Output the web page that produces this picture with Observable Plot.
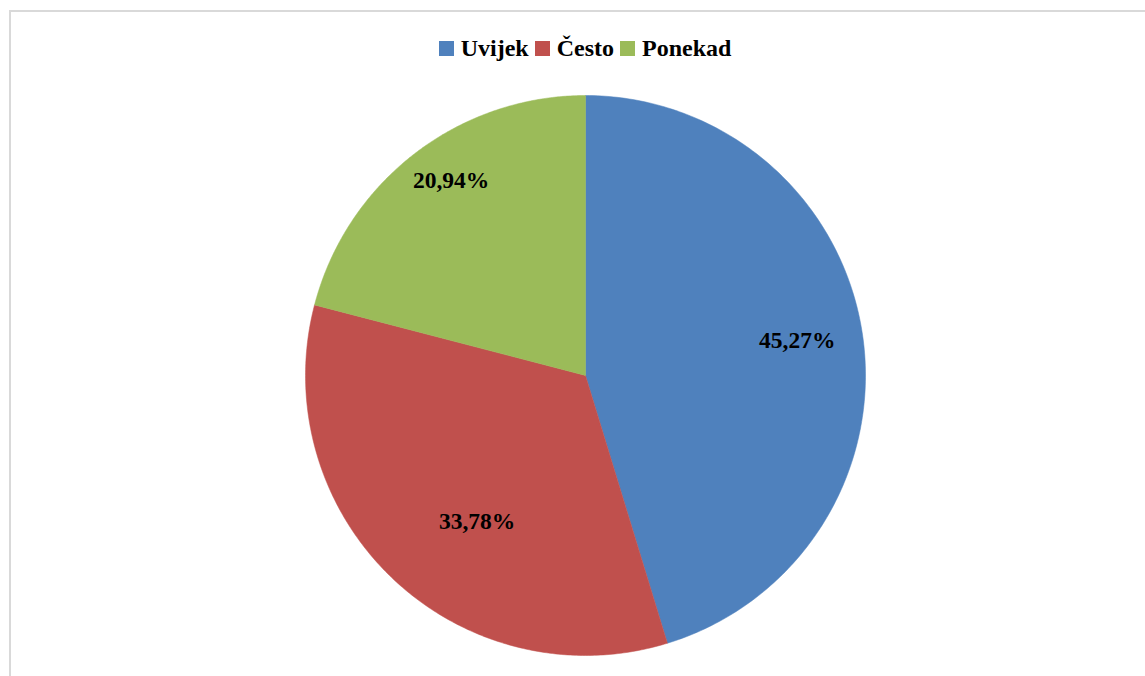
<!DOCTYPE html>
<html>
<head>
<meta charset="utf-8">
<script src="https://cdn.jsdelivr.net/npm/d3@7"></script>
<script src="https://cdn.jsdelivr.net/npm/@observablehq/plot@0.6"></script>
<style>
  html, body { margin: 0; padding: 0; background: #fff; overflow: hidden; width: 1145px; height: 676px; }
  #frame { position: absolute; left: 9px; top: 10px; width: 1200px; height: 800px; border: 2px solid #d9d9d9; box-sizing: border-box; }
  #legend { position: absolute; left: 0; top: 34px; width: 1170px; display: flex; justify-content: center; align-items: center;
            font-family: "Liberation Serif", "Times New Roman", serif; font-weight: bold; font-size: 24px; line-height: 28px; color: #000; }
  #legend .item { display: flex; align-items: center; margin: 0 3px; }
  #legend .sw { width: 15px; height: 15px; margin-right: 7px; }
  #chart { position: absolute; left: 0; top: 80px; }
</style>
</head>
<body>
<div id="frame"></div>
<div id="legend"></div>
<div id="chart"></div>
<script>
const categories = ["Uvijek", "Često", "Ponekad"];
const values = [45.27, 33.78, 20.94];
const labels = ["45,27%", "33,78%", "20,94%"];
const colors = ["#4F81BD", "#C0504D", "#9BBB59"];

// legend
const legend = document.getElementById("legend");
categories.forEach((c, i) => {
  const it = document.createElement("div");
  it.className = "item";
  const sw = document.createElement("div");
  sw.className = "sw";
  sw.style.background = colors[i];
  const t = document.createElement("span");
  t.textContent = c;
  it.appendChild(sw); it.appendChild(t);
  legend.appendChild(it);
});

// pie geometry from data (clockwise from 12 o'clock)
const arcs = d3.pie().sort(null).value(d => d.value)(categories.map((c, i) => ({category: c, value: values[i], label: labels[i]})));
const poly = [];
arcs.forEach(a => {
  poly.push({category: a.data.category, x: 0, y: 0});
  const n = 200;
  for (let k = 0; k <= n; k++) {
    const t = a.startAngle + (a.endAngle - a.startAngle) * k / n;
    poly.push({category: a.data.category, x: Math.sin(t), y: Math.cos(t)});
  }
  poly.push({category: a.data.category, x: 0, y: 0});
});
const labelPts = arcs.map(a => {
  const m = (a.startAngle + a.endAngle) / 2;
  return {category: a.data.category, label: a.data.label, x: 0.75 * Math.sin(m), y: 0.75 * Math.cos(m)};
});
const offsets = {"Uvijek": [4, -4], "Često": [37, -6], "Ponekad": [-6, -29]};

const W = 1145, H = 596;
const plot = Plot.plot({
  width: W, height: H,
  marginLeft: 305, marginRight: 280, marginTop: 15, marginBottom: 21,
  x: {domain: [-1, 1], axis: null},
  y: {domain: [-1, 1], axis: null},
  color: {domain: categories, range: colors},
  style: {background: "transparent", overflow: "visible"},
  marks: [
    Plot.line(poly, {x: "x", y: "y", z: "category", fill: "category", stroke: "category", strokeWidth: 0.5, curve: "linear"}),
    ...labelPts.map(p => Plot.text([p], {
      x: "x", y: "y", text: "label",
      dx: offsets[p.category][0], dy: offsets[p.category][1],
      fill: "#000", fontSize: 23.5, fontWeight: "bold",
      fontFamily: "Liberation Serif, Times New Roman, serif"
    }))
  ]
});
document.getElementById("chart").appendChild(plot);
</script>
</body>
</html>
